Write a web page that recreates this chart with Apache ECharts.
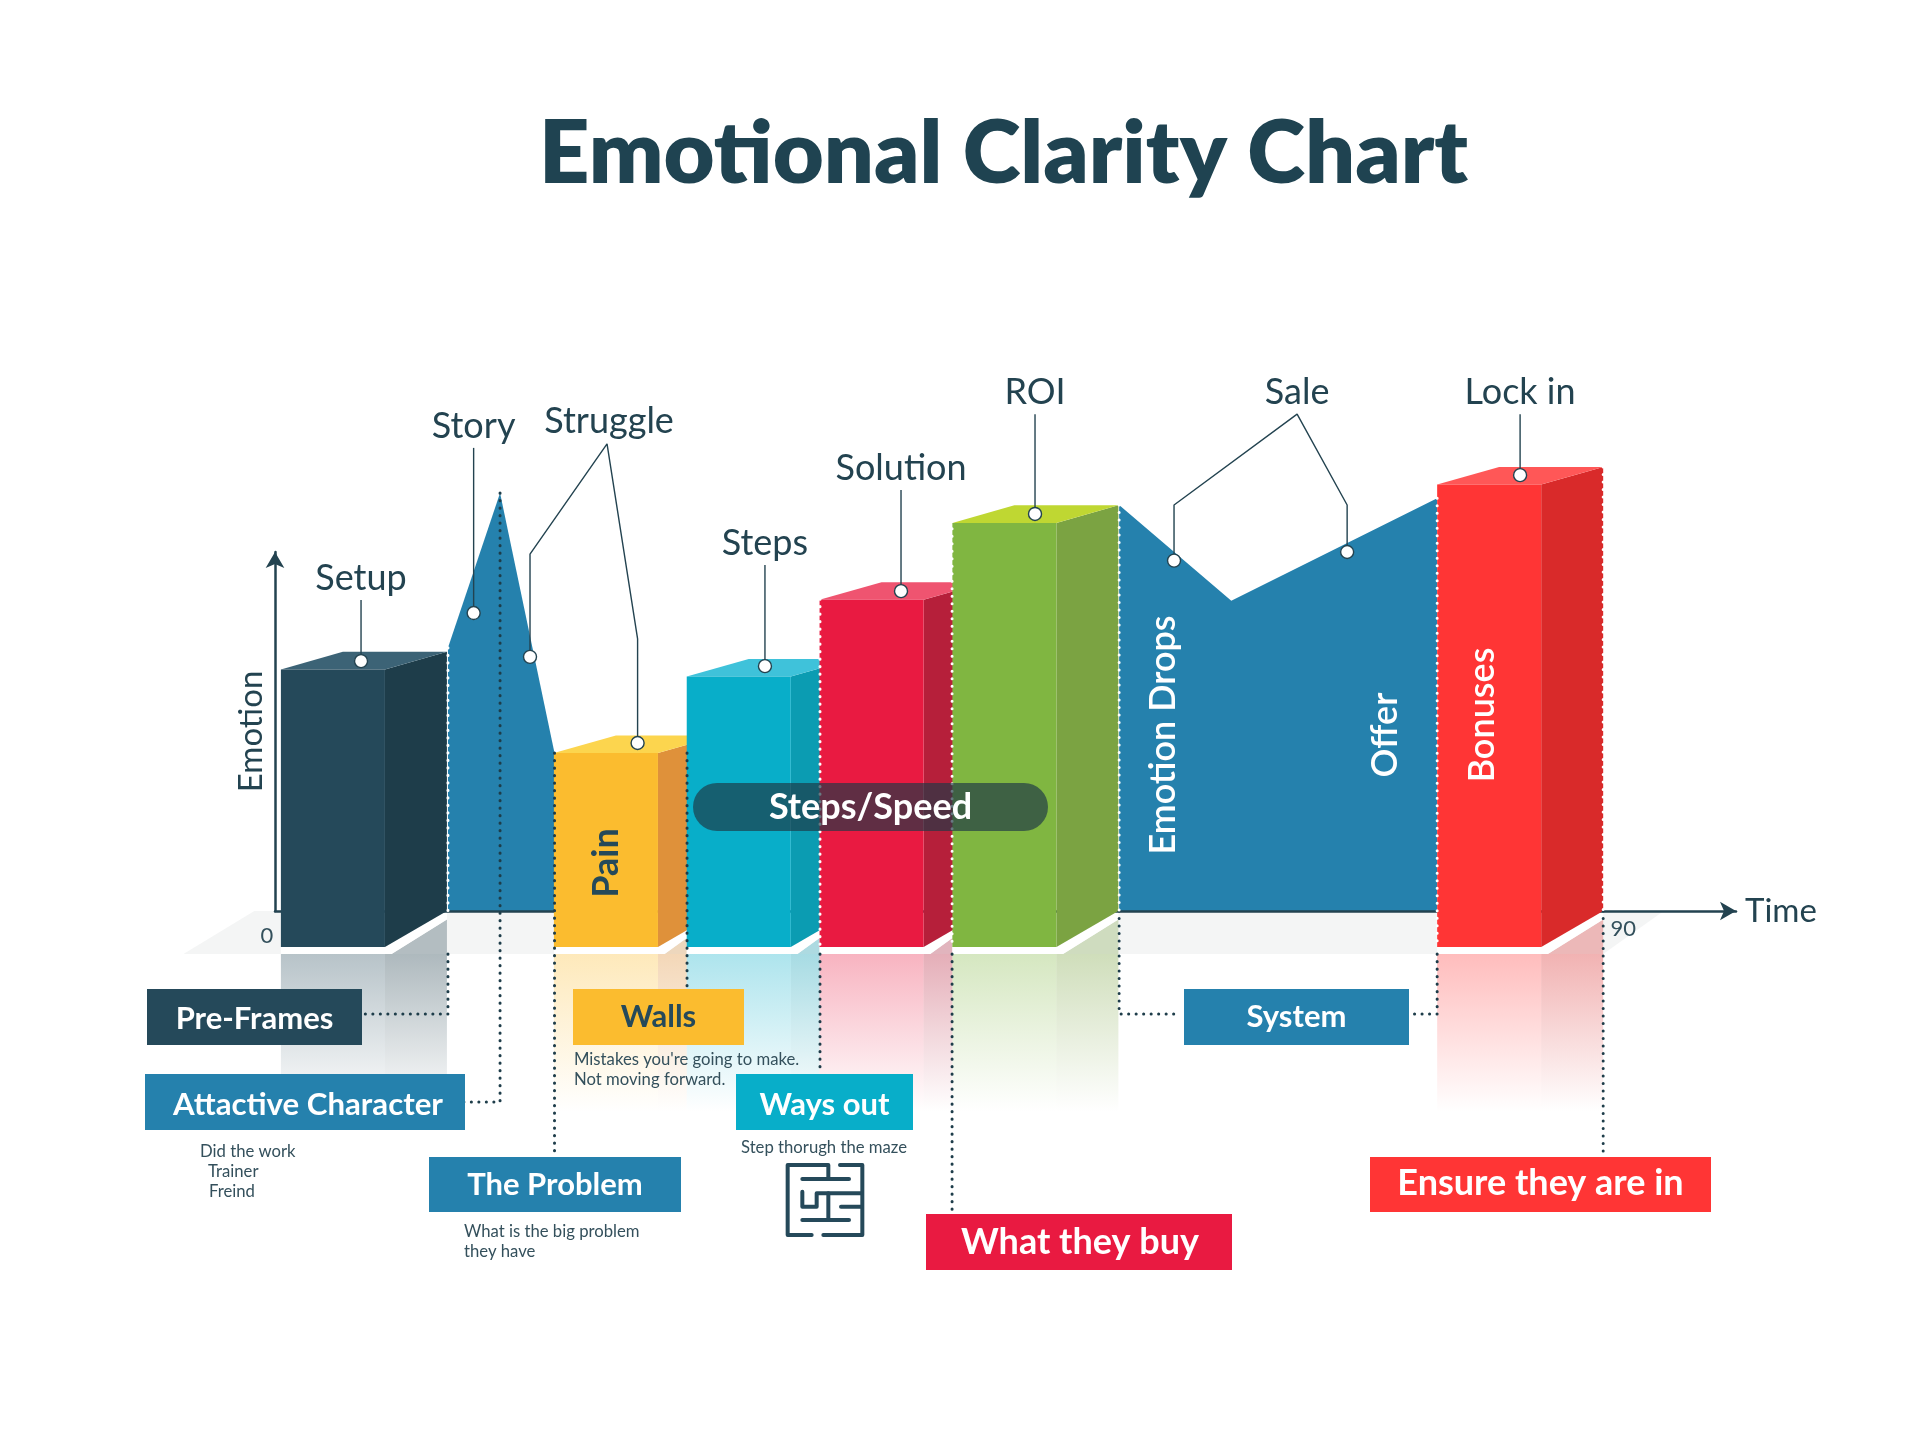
<!DOCTYPE html>
<html>
<head>
<meta charset="utf-8">
<style>html,body{margin:0;padding:0;background:#fff}#c{width:1919px;height:1440px}</style>
<script src="https://cdn.jsdelivr.net/npm/echarts@6/dist/echarts.min.js"></script>
</head>
<body>
<div id="c"></div>
<script>
// ---- data, in axis units (time 0-90, emotion 0-100) ----
const barNames   = ['Setup', 'Pain', 'Steps', 'Solution', 'ROI', 'Bonuses'];
const barStart   = [0.4, 18.9, 27.9, 36.9, 45.9, 78.75];
const barEmotion = [72.2, 48.9, 70.2, 91.6, 113, 123.7];
const barFront   = ['#25495a', '#fbbc2f', '#08aec9', '#e91a41', '#80b641', '#ff3535'];
const barSide    = ['#1e3d4a', '#df913a', '#0b9cb2', '#b61f3a', '#7ba342', '#d92a2a'];
const barTop     = ['#3c6376', '#fcd54e', '#3fc2da', '#ef5470', '#bfd732', '#ff5757'];
const storyTime     = [11.72, 15.25, 18.94];
const storyEmotion  = [73.3, 116.4, 44.0];
const dropTime      = [57.2, 64.8, 78.75];
const dropEmotion   = [113.1, 86.4, 115.0];
const tickValues = [0, 90];
const calloutNames = ['Setup', 'Story', 'Struggle', 'Steps', 'Solution', 'ROI', 'Sale', 'Lock in'];
const calloutPaths = [
  [[5.83, 86.6], [5.83, 69.6]],
  [[13.46, 129.0], [13.46, 83.0]],
  [[17.28, 70.8], [17.28, 99.4], [22.5, 130.1], [24.57, 75.8], [24.57, 46.8]],
  [[33.2, 96.4], [33.2, 68.2]],
  [[42.42, 117.3], [42.42, 89.1]],
  [[51.5, 138.4], [51.5, 110.6]],
  [[60.92, 97.6], [60.92, 113.1], [69.26, 138.4], [72.65, 113.1], [72.65, 100.0]],
  [[84.37, 138.4], [84.37, 121.4]]
];
const calloutMarkers = [
  [5.83, 69.6], [13.46, 83.0], [17.28, 70.8], [24.57, 46.8], [33.2, 68.2],
  [42.42, 89.1], [51.5, 110.6], [60.92, 97.6], [72.65, 100.0], [84.37, 121.4]
];
const darkDots = [
  [[11.72, -12], [11.72, -28.7], [5.9, -28.7]],
  [[15.25, 116.4], [15.25, -53.2], [12.8, -53.2]],
  [[18.94, 44], [18.94, -68.5]],
  [[27.92, 44], [27.92, -22]],
  [[36.93, -12], [36.93, -43.7]],
  [[45.88, -12], [45.88, -83.8]],
  [[57.2, 0], [57.2, -28.7], [61.2, -28.7]],
  [[78.75, -12], [78.75, -28.7], [77, -28.7]],
  [[90, 0], [90, -67.4]]
];
const whiteDots = [
  [[11.72, 73.3], [11.72, 0]],
  [[36.93, 86.9], [36.93, -10]],
  [[45.88, 108.6], [45.88, -10]],
  [[57.2, 113.1], [57.2, 0]],
  [[78.75, 115], [78.75, -10]],
  [[90, 123.7], [90, 0]]
];
const floorOutline = [[-1.4, 0], [94.1, 0], [90, -12], [-6.2, -12]];
// Projection of the 3D blocks, in axis units.
const frontSpan = 7.05, depthSpan = 4.2, topDrop = 4.9, baseDrop = -10, floorDrop = -12, mirrorEnd = -56;

const INK = '#234350', BLUE = '#2581ad', FONT = 'Lato';
const chart = echarts.init(document.getElementById('c'), null, {renderer: 'canvas'});

function poly(api, pts, fill) {
  return {type: 'polygon', shape: {points: pts.map(p => api.coord(p))}, style: {fill: fill}};
}
function fade(color, a) {
  return new echarts.graphic.LinearGradient(0, 0, 0, 1, [
    {offset: 0, color: echarts.color.modifyAlpha(color, a)},
    {offset: 1, color: echarts.color.modifyAlpha(color, 0)}
  ]);
}
function floorItem(params, api) {
  return poly(api, floorOutline, '#f4f5f5');
}
function mirrorItem(params, api) {
  const i = params.dataIndex, s = barStart[i], m = s + frontSpan, full = m + depthSpan;
  // The side of a block stops where the next block begins.
  const e = i + 1 < barStart.length ? Math.min(full, barStart[i + 1]) : full;
  const t = (e - m) / depthSpan;
  const up = baseDrop * (1 - t);                       // top edge of the white strip at e
  const lo = floorDrop + (baseDrop + 7.6 - floorDrop) * t; // bottom edge of the white strip at e
  return {type: 'group', children: [
    poly(api, [[s, floorDrop], [m, floorDrop], [m, mirrorEnd], [s, mirrorEnd]], fade(barFront[i], .33)),
    poly(api, [[m, floorDrop], [e, floorDrop], [e, mirrorEnd], [m, mirrorEnd]], fade(barSide[i], .36)),
    poly(api, [[m + .45, floorDrop], [e, lo], [e, floorDrop]], echarts.color.modifyAlpha(barSide[i], .3)),
    poly(api, [[s, baseDrop], [m, baseDrop], [e, up], [e, lo], [m + .45, floorDrop], [s, floorDrop]], '#fff')
  ]};
}
function blockItem(params, api) {
  const i = params.dataIndex, s = barStart[i], m = s + frontSpan, e = m + depthSpan, v = barEmotion[i];
  return {type: 'group', children: [
    poly(api, [[m, v - topDrop], [e, v], [e, 0], [m, baseDrop]], barSide[i]),
    poly(api, [[s, v - topDrop], [s + depthSpan, v], [e, v], [m, v - topDrop]], barTop[i]),
    poly(api, [[s, v - topDrop], [m, v - topDrop], [m, baseDrop], [s, baseDrop]], barFront[i])
  ]};
}
function dotsItem(list, color) {
  return function (params, api) {
    return {type: 'polyline', shape: {points: list[params.dataIndex].map(p => api.coord(p))},
      style: {fill: null, stroke: color, lineWidth: 3, lineDash: [0.1, 7.4], lineCap: 'round'}};
  };
}
function pickIdx(n) { return Array.from({length: n}, (_, i) => [i, 0]); }
function customSeries(name, n, renderItem, z) {
  return {type: 'custom', name: name, data: pickIdx(n), renderItem: renderItem, z: z, clip: false, silent: true};
}

const series = [
  customSeries('floor', 1, floorItem, 0),
  customSeries('reflection', barNames.length, mirrorItem, 0),
  {type: 'line', name: 'Story', clip: false, data: storyTime.map((t, i) => [t, storyEmotion[i]]), showSymbol: false,
    lineStyle: {width: 0}, areaStyle: {color: BLUE, opacity: 1}, z: 1, silent: true},
  {type: 'line', name: 'Emotion drops', clip: false, data: dropTime.map((t, i) => [t, dropEmotion[i]]), showSymbol: false,
    lineStyle: {width: 0}, areaStyle: {color: BLUE, opacity: 1}, z: 1, silent: true},
  customSeries('blocks', barNames.length, blockItem, 3),
  customSeries('dark dots', darkDots.length, dotsItem(darkDots, '#1e3d4a'), 4),
  customSeries('white dots', whiteDots.length, dotsItem(whiteDots, '#ffffff'), 4)
];
const labelPoints = [];
calloutNames.forEach((name, i) => {
  const path = calloutPaths[i];
  series.push({
    type: 'line', name: name, clip: false, showSymbol: false, silent: true, z: 5,
    lineStyle: {color: INK, width: 1.4}, data: path
  });
  const top = path.reduce((b, p) => p[1] > b[1] ? p : b, path[0]);
  labelPoints.push({value: top, label: {formatter: name, offset: name === 'Struggle' ? [2, -1] : [0, 0]}});
});
series.push({
  type: 'scatter', name: 'callout labels', clip: false, silent: true, z: 6, symbolSize: 1,
  data: labelPoints, itemStyle: {color: 'rgba(0,0,0,0)', opacity: 1},
  label: {show: true, position: 'top', distance: 3, fontFamily: FONT, fontSize: 36, color: INK, opacity: 1}
});
series.push({
  type: 'scatter', name: 'markers', clip: false, silent: true, z: 6, symbolSize: 13,
  data: calloutMarkers, itemStyle: {color: '#fff', opacity: 1, borderColor: INK, borderWidth: 1.4}
});

function box(x, y, w, h, fill, text, color, size, dx, dy) {
  return {type: 'rect', left: x, top: y, z: 20, shape: {width: w, height: h}, style: {fill: fill},
    textContent: {style: {text: text, fill: color, font: '700 ' + size + 'px ' + FONT}, z: 21},
    textConfig: {position: 'inside', offset: [dx || 0, dy === undefined ? 1 : dy]}};
}
function small(x, y, text) {
  return {type: 'text', left: x, top: y, z: 22, style: {text: text, fill: '#34505c', font: '16.7px ' + FONT, lineHeight: 19.5}};
}
function side(x, y, text, color, size, weight) {
  return {type: 'text', x: x, y: y, rotation: Math.PI / 2, z: 20,
    style: {text: text, fill: color, font: (weight || 700) + ' ' + size + 'px ' + FONT, align: 'center', verticalAlign: 'middle'}};
}
function mazeLine(points) {
  return {type: 'polyline', shape: {points: points}, style: {fill: null, stroke: '#25495a', lineWidth: 12, lineCap: 'round', lineJoin: 'round'}};
}
const graphics = [
  box(147, 989, 215, 56, '#25495a', 'Pre-Frames', '#fff', 31, 0, 2),
  box(145, 1074, 320, 56, BLUE, 'Attactive Character', '#fff', 31.2, 3, 3),
  box(429, 1157, 252, 55, BLUE, 'The Problem', '#fff', 31, 0, 0),
  box(573, 989, 171, 56, '#fbbc2f', 'Walls', '#25495a', 31, 0, 0),
  box(736, 1074, 177, 56, '#08aec9', 'Ways out', '#fff', 31, 0, 3),
  box(1184, 989, 225, 56, BLUE, 'System', '#fff', 31, 0, 0),
  box(926, 1214, 306, 56, '#e91a41', 'What they buy', '#fff', 36, 1, 0),
  box(1370, 1157, 341, 55, '#ff3535', 'Ensure they are in', '#fff', 36, 0, -1),
  small(200, 1142, 'Did the work'),
  small(208, 1162, 'Trainer'),
  small(209, 1182, 'Freind'),
  small(464, 1222, 'What is the big problem\nthey have'),
  small(574, 1050, "Mistakes you're going to make.\nNot moving forward."),
  small(741, 1138, 'Step thorugh the maze'),
  {type: 'rect', left: 693, top: 783, z: 20, shape: {width: 355, height: 48, r: 24}, style: {fill: 'rgba(29,57,69,.675)'},
    textContent: {style: {text: 'Steps/Speed', fill: '#fff', font: '700 36px ' + FONT}, z: 21}, textConfig: {position: 'inside'}},
  {type: 'group', x: 775, y: 1155, scaleX: 1 / 3, scaleY: 1 / 3, z: 20, children: [
    [[160, 70], [160, 30], [38, 30], [38, 240], [110, 240]],
    [[195, 30], [262, 30], [262, 240], [145, 240]],
    [[82, 72], [222, 72]],
    [[82, 110], [82, 155], [125, 155], [125, 115], [258, 115]],
    [[160, 115], [160, 195]],
    [[82, 195], [222, 195]],
    [[198, 155], [258, 155]]
  ].map(mazeLine)},
  side(606, 863, 'Pain', '#25495a', 36, 700),
  side(1163, 735, 'Emotion Drops', '#fff', 36, 600),
  side(1385, 735, 'Offer', '#fff', 36, 600),
  side(1482, 715, 'Bonuses', '#fff', 36, 600)
];

chart.setOption({
  animation: false,
  backgroundColor: '#fff',
  tooltip: {show: false},
  title: {text: 'Emotional Clarity Chart', left: 998.5, top: 106, textAlign: 'center',
    textStyle: {fontFamily: FONT, fontWeight: 800, fontSize: 88, color: '#1f4351'}},
  grid: {left: 275, top: 552, width: 1461, height: 359, containLabel: false},
  xAxis: {
    type: 'value', min: 0, max: 99, z: 2,
    splitLine: {show: false}, axisTick: {show: false},
    axisLine: {show: true, onZero: false, symbol: ['none', 'arrow'], symbolSize: [14, 16],
      lineStyle: {color: '#234350', width: 2.5}},
    axisLabel: {
      show: true, customValues: tickValues, margin: 7, hideOverlap: false,
      formatter: v => v === 0 ? '{a|0}' : '{b|' + v + '}',
      rich: {
        a: {fontFamily: FONT, fontSize: 22, color: '#33505c', padding: [7, 16, 0, 0]},
        b: {fontFamily: FONT, fontSize: 22, color: '#33505c', padding: [0, 0, 0, 40]}
      }
    },
    name: 'Time', nameLocation: 'end', nameGap: 9,
    nameTextStyle: {fontFamily: FONT, fontSize: 33, color: INK, padding: [0, 0, 11, 0]}
  },
  yAxis: {
    type: 'value', min: 0, max: 100, z: 2,
    splitLine: {show: false}, axisTick: {show: false}, axisLabel: {show: false},
    axisLine: {show: true, onZero: false, symbol: ['none', 'arrow'], symbolSize: [14, 16],
      lineStyle: {color: '#234350', width: 2.5}},
    name: 'Emotion', nameLocation: 'middle', nameGap: 7,
    nameTextStyle: {fontFamily: FONT, fontSize: 33, color: INK}
  },
  series: series,
  graphic: graphics
});
</script>
</body>
</html>
